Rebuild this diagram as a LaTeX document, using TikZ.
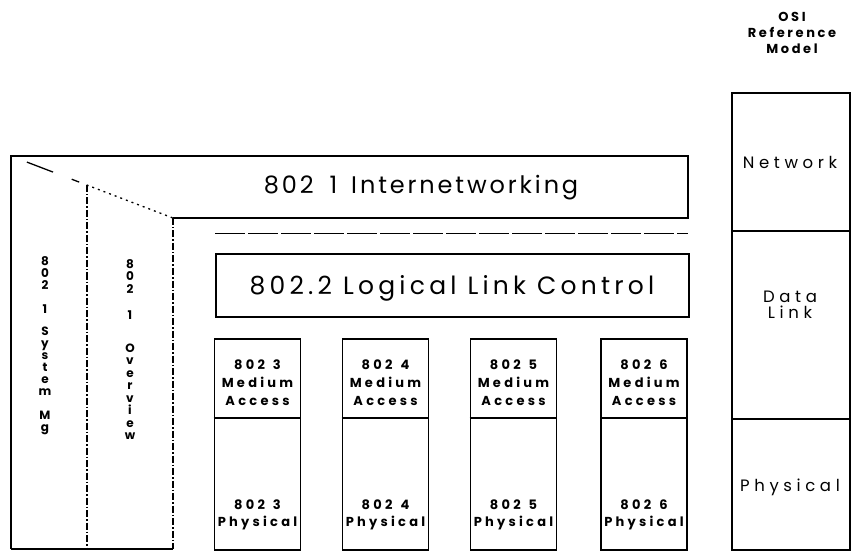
\documentclass[tikz,border=0pt]{standalone}
\usepackage{fontspec}
\setmainfont{Poppins}
\newfontfamily\llcfont[LetterSpace=17]{Poppins}
\newfontfamily\inetfont[LetterSpace=12]{Poppins}
\newfontfamily\osifont[LetterSpace=28]{Poppins}
\newfontfamily\titlefont[LetterSpace=20]{Poppins}
\newfontfamily\smallfont[LetterSpace=25]{Poppins}
\newcommand{\gap}[1]{\hspace*{#1}}
\begin{document}
\begin{tikzpicture}[x=1pt,y=-1pt,
  frame/.style={line width=1.6pt, line join=miter},
  box/.style={draw, line width=1.6pt, inner sep=0pt},
  dashdot/.style={line width=1.4pt, dash pattern=on 7pt off 2pt on 1.5pt off 2pt},
  diag/.style={line width=1.3pt, dash pattern=on 0pt off 17pt on 28pt off 20pt on 8pt off 8pt on 2pt off 4pt on 2pt off 4pt on 2pt off 4pt on 2pt off 4pt on 2pt off 4pt on 2pt off 4pt on 2pt off 4pt on 2pt off 4pt on 2pt off 4pt on 2pt off 4pt on 2pt off 4pt on 2pt off 4pt on 2pt off 4pt on 2pt off 4pt on 2pt off 4pt on 2pt off 4pt},
  inettxt/.style={font=\inetfont\fontsize{24}{28}\selectfont, inner sep=0pt},
  llctxt/.style={font=\llcfont\fontsize{25}{29}\selectfont, inner sep=0pt},
  ositxt/.style={font=\osifont\fontsize{16.5}{17}\selectfont, inner sep=0pt, align=center},
  titletxt/.style={font=\titlefont\bfseries\fontsize{13}{16}\selectfont, inner sep=0pt, align=center},
  smalltxt/.style={font=\smallfont\bfseries\fontsize{13}{18}\selectfont, inner sep=0pt, align=center},
  stacktxt/.style={font=\bfseries\fontsize{12}{12}\selectfont, inner sep=0pt, align=center, anchor=north},
]
\useasboundingbox (0,0) rectangle (865,556);
\fill[white] (0,0) rectangle (865,556);

% left structure and 802.1 box
\coordinate (tl) at (11,156);
\coordinate (tr) at (688,156);
\coordinate (br) at (688,218);
\coordinate (corner) at (173,218);
\coordinate (bl) at (11,549);
\coordinate (bm) at (173,549);
\coordinate (d1top) at (87,185);
\coordinate (d1bot) at (87,549);
\draw[frame] (bl) -- (tl) -- (tr) -- (br) -- (corner);
\draw[frame] (bl) -- (bm);
\draw[dashdot] (corner) -- (bm);
\draw[dashdot] (d1top) -- (d1bot);
\draw[diag] (tl) -- (corner);
\node[inettxt] (inet) at (421,188) {802\gap{16pt}1\gap{14pt}Internetworking};

% dashed separator
\coordinate (sepl) at (215,233);
\coordinate (sepr) at (688,233);
\draw[line width=0.9pt, dash pattern=on 30pt off 3pt] (sepl) -- (sepr);

% LLC
\node[box, minimum width=473pt, minimum height=63pt, anchor=north west] (llc) at (215,253) {};
\node[llctxt] (llctxt) at (452,288) {802.2 Logical Link Control};

% vertical stacked labels
\node[stacktxt] (v1) at (45,256) {8\\0\\2\\[12pt]1\\[10pt]S\\y\\s\\t\\e\\m\\[12pt]M\\g};
\node[stacktxt, font=\bfseries\fontsize{12}{12.5}\selectfont] (v2) at (130,259) {8\\0\\2\\[14pt]1\\[20pt]O\\v\\e\\r\\v\\i\\e\\w};

% MAC / PHY boxes
\foreach \n/\cx in {3/257.5, 4/385.5, 5/513.5, 6/644} {
  \node[box, minimum width=86pt, minimum height=211pt, anchor=north] (m\n) at (\cx,338) {};
  \draw[line width=1.4pt] (m\n.west |- 0,418) -- (m\n.east |- 0,418);
  \node[smalltxt] (mac\n) at (\cx,383) {802\gap{8pt}\n\\Medium\\Access};
  \node[smalltxt, font=\smallfont\bfseries\fontsize{13}{17}\selectfont] (phy\n) at (\cx,514.5) {802\gap{8pt}\n\\Physical};
}

% OSI reference model
\node[titletxt] (osititle) at (792,33) {OSI\\Reference\\Model};
\node[box, minimum width=118pt, minimum height=457pt, anchor=north west] (osi) at (731,92) {};
\draw[line width=1.6pt] (osi.west |- 0,231) -- (osi.east |- 0,231);
\draw[line width=1.6pt] (osi.west |- 0,419) -- (osi.east |- 0,419);
\node[ositxt] (net) at (790,162) {Network};
\node[ositxt, font=\osifont\fontsize{16.5}{16}\selectfont] (dl) at (790,305) {Data\\Link};
\node[ositxt] (phys) at (790,487) {Physical};
\end{tikzpicture}
\end{document}
